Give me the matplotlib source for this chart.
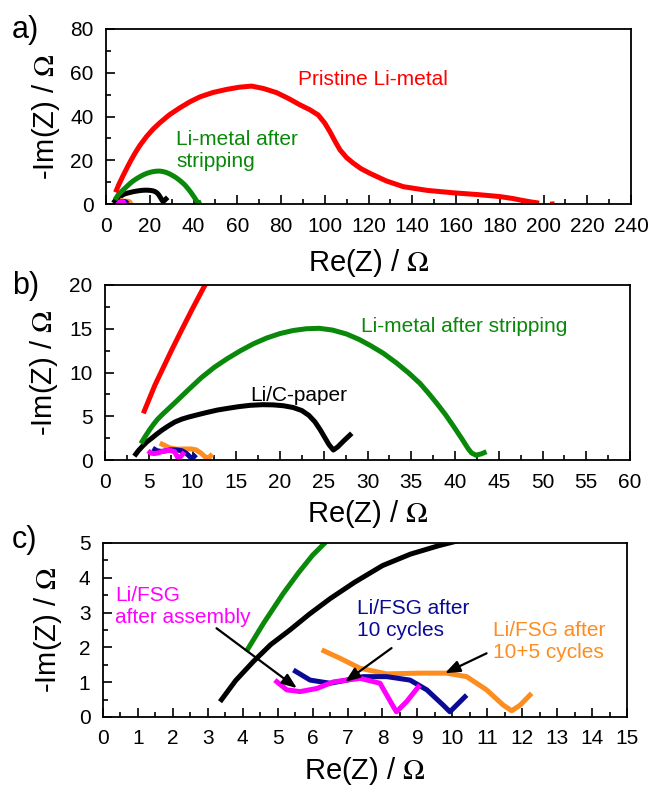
import matplotlib
matplotlib.use("Agg")
import matplotlib.pyplot as plt
from matplotlib.ticker import MultipleLocator

plt.rcParams['font.family'] = ['Liberation Sans', 'DejaVu Sans']
plt.rcParams['mathtext.fontset'] = 'stix'

# ---------------- data ----------------
red_x = [4.38, 5.71, 7.62, 8.76, 10.0, 11.43, 13.3, 15.5, 18.5, 21.5, 24.7, 29.0, 33.8,
         38.5, 43.0, 49.0, 55.2, 61.0, 66.6, 72.0, 78.0, 83.5, 88.7, 93.0, 97.0, 100.0,
         102.4, 104.8, 107.0, 110.0, 113.0, 116.5, 120.7, 128.0, 136.0, 147.0, 159.0,
         170.0, 180.0, 186.0, 190.0, 194.0, 198.0]
red_y = [5.33, 8.57, 12.57, 14.86, 17.3, 20.0, 23.3, 26.8, 30.8, 34.2, 37.2, 40.8, 44.0,
         46.8, 49.0, 51.0, 52.4, 53.4, 53.9, 52.8, 50.9, 48.2, 45.3, 43.2, 40.7, 37.0,
         33.0, 28.5, 24.7, 21.2, 18.7, 16.2, 14.0, 10.6, 7.9, 6.2, 5.1,
         4.3, 3.4, 2.5, 1.7, 1.0, 0.4]
red_tail_x = [203.0, 205.0]
red_tail_y = [0.45, 0.6]

green_x = [4.1, 4.6, 5.16, 5.6, 6.0, 6.6, 7.3, 8.2, 9.5, 11.0, 12.5, 14.0, 15.5, 17.0,
           18.5, 20.0, 21.5, 23.0, 24.5, 26.0, 27.6, 29.0, 30.3, 31.8, 33.3, 34.7, 36.0,
           37.0, 37.9, 38.9, 39.8, 40.8, 41.5, 41.9, 42.4, 43.0, 43.6]
green_y = [1.88, 2.7, 3.55, 4.15, 4.65, 5.25, 5.9, 6.75, 8.0, 9.4, 10.6, 11.6, 12.5, 13.3,
           13.95, 14.45, 14.8, 15.0, 15.05, 14.85, 14.4, 13.8, 13.1, 12.2, 11.1, 9.95, 8.75,
           7.6, 6.5, 5.2, 3.9, 2.4, 1.3, 0.8, 0.55, 0.7, 0.95]

black_x = [3.35, 3.8, 4.3, 4.8, 5.35, 5.9, 6.5, 7.2, 8.0, 8.8, 9.6, 10.5, 11.5, 12.8,
           14.0, 15.3, 16.6, 18.0, 19.2, 20.4, 21.5, 22.5, 23.3, 24.0, 24.6, 25.1, 25.6,
           26.1, 26.6, 27.3, 28.2]
black_y = [0.44, 1.05, 1.59, 2.08, 2.5, 2.95, 3.4, 3.87, 4.35, 4.68, 4.92, 5.15, 5.4, 5.7,
           5.9, 6.1, 6.25, 6.32, 6.3, 6.2, 6.0, 5.65, 5.1, 4.35, 3.45, 2.6, 1.75,
           1.14, 1.5, 2.2, 3.05]

magenta_x = [4.92, 5.26, 5.64, 6.12, 6.6, 7.36, 7.93, 8.31, 8.4, 8.69, 9.07]
magenta_y = [1.06, 0.78, 0.73, 0.82, 1.01, 1.11, 0.97, 0.3, 0.15, 0.44, 0.92]

blue_x = [5.45, 5.93, 6.5, 6.98, 7.45, 8.12, 8.79, 9.27, 9.74, 9.93, 10.41]
blue_y = [1.35, 1.06, 0.97, 1.06, 1.16, 1.16, 1.06, 0.78, 0.34, 0.15, 0.63]

orange_x = [6.26, 6.78, 7.36, 8.12, 9.07, 9.84, 10.41, 10.98, 11.46, 11.7, 11.94, 12.27]
orange_y = [1.93, 1.69, 1.40, 1.24, 1.26, 1.26, 1.16, 0.78, 0.34, 0.18, 0.34, 0.68]

panel_labels = ['a)', 'b)', 'c)']
xlims = [(0, 240), (0, 60), (0, 15)]
ylims = [(0, 80), (0, 20), (0, 5)]
x_major = [20, 5, 1]
x_minor = [10, 2.5, 0.5]
y_major = [20, 5, 1]
y_minor = [10, 2.5, 0.5]

RED = '#FF0000'
GREEN = '#0A880A'
BLACK = '#000000'
MAGENTA = '#FF00FF'
BLUE = '#0A0A96'
ORANGE = '#FF8C1E'

# ---------------- figure ----------------
fig = plt.figure(figsize=(6.52, 7.87), dpi=100)
W, H = 652.0, 787.0
boxes = [(106, 29, 631, 204), (105, 285, 630, 460), (103, 543, 627, 717)]
axes = []
for (l, t, r, b) in boxes:
    ax = fig.add_axes([l / W, 1 - b / H, (r - l) / W, (b - t) / H])
    axes.append(ax)

xlab_y = [-0.245, -0.215, -0.219]
ylab_x = [-0.083, -0.085, -0.074]
letter_top = [15, 271, 525]

lw = 3.6
for i, ax in enumerate(axes):
    kw = dict(lw=lw, solid_joinstyle='round', solid_capstyle='butt')
    ax.plot(black_x, black_y, color=BLACK, **kw)
    ax.plot(green_x, green_y, color=GREEN, **kw)
    ax.plot(red_x, red_y, color=RED, **kw)
    ax.plot(red_tail_x, red_tail_y, color=RED, lw=2.0, solid_capstyle='butt')
    ax.plot(orange_x, orange_y, color=ORANGE, **kw)
    ax.plot(blue_x, blue_y, color=BLUE, **kw)
    ax.plot(magenta_x, magenta_y, color=MAGENTA, **kw)

    ax.set_xlim(*xlims[i])
    ax.set_ylim(*ylims[i])
    ax.xaxis.set_major_locator(MultipleLocator(x_major[i]))
    ax.xaxis.set_minor_locator(MultipleLocator(x_minor[i]))
    ax.yaxis.set_major_locator(MultipleLocator(y_major[i]))
    ax.yaxis.set_minor_locator(MultipleLocator(y_minor[i]))
    ax.tick_params(which='both', direction='in', top=False, right=False,
                   width=1.2, labelsize=15, pad=9)
    ax.tick_params(which='major', length=6.5)
    ax.tick_params(which='minor', length=3.5)
    for s in ax.spines.values():
        s.set_linewidth(1.3)

    ax.set_xlabel(r'Re(Z) / $\Omega$', fontsize=21)
    ax.xaxis.set_label_coords(0.5, xlab_y[i])
    ax.set_ylabel(r'-Im(Z) / $\Omega$', fontsize=21)
    ax.yaxis.set_label_coords(ylab_x[i], 0.5)

    fig.text(12 / W, 1 - letter_top[i] / H, panel_labels[i], fontsize=22,
             va='top', ha='left')

# ---------------- annotations ----------------
ta = dict(fontsize=15, va='center', ha='left', linespacing=1.2)
axes[0].text(87.8, 56.7, 'Pristine Li-metal', color=RED, **ta)
axes[0].text(32.0, 24.6, 'Li-metal after\nstripping', color=GREEN, **ta)

axes[1].text(29.3, 15.2, 'Li-metal after stripping', color=GREEN, **ta)
axes[1].text(16.6, 7.4, 'Li/C-paper', color=BLACK, **ta)

axes[2].text(0.34, 3.18, 'Li/FSG\nafter assembly', color=MAGENTA, **ta)
axes[2].text(7.26, 2.79, 'Li/FSG after\n10 cycles', color=BLUE, **ta)
axes[2].text(11.17, 2.16, 'Li/FSG after\n10+5 cycles', color=ORANGE, **ta)

arrow = dict(arrowstyle='-|>,head_length=0.9,head_width=0.35', color='black', lw=1.6,
             shrinkA=0, shrinkB=0)
axes[2].annotate('', xy=(5.55, 0.83), xytext=(3.25, 2.55), arrowprops=arrow)
axes[2].annotate('', xy=(6.93, 1.01), xytext=(8.26, 1.98), arrowprops=arrow)
axes[2].annotate('', xy=(9.79, 1.26), xytext=(10.98, 1.83), arrowprops=arrow)

fig.savefig('out.png', dpi=100)
